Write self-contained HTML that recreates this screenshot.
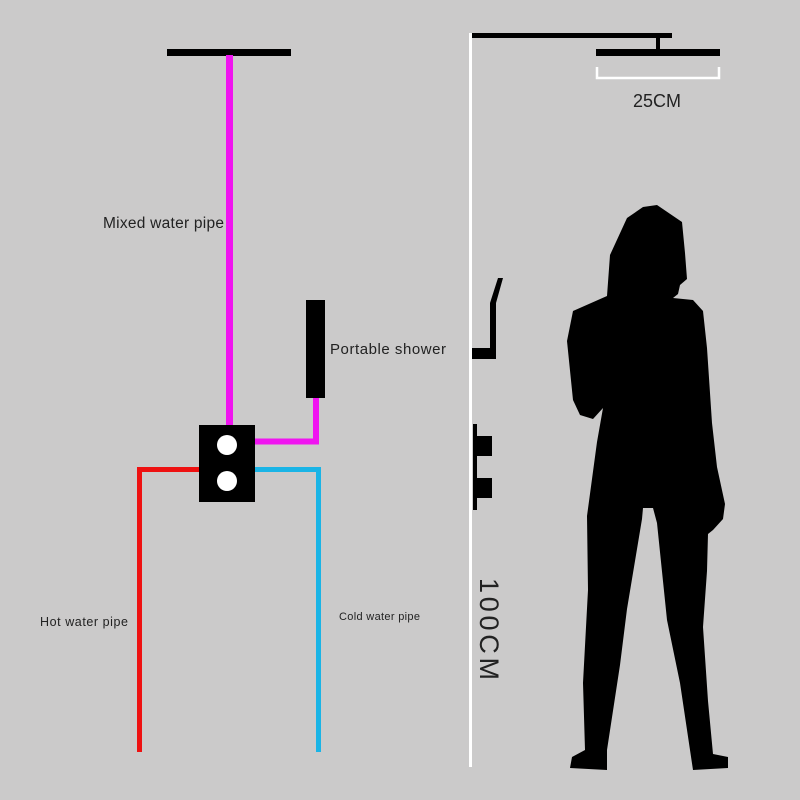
<!DOCTYPE html>
<html><head><style>
html,body{margin:0;padding:0;background:#cbcaca;}
svg{display:block}
text{font-family:"Liberation Sans",sans-serif;fill:#222;}
</style></head><body>
<svg width="800" height="800" viewBox="0 0 800 800">
<rect width="800" height="800" fill="#cbcaca"/>
<rect x="167" y="49" width="124" height="7" fill="#000"/>
<rect x="226" y="55" width="7" height="372" fill="#f014f0"/>
<rect x="306" y="300" width="19" height="98" fill="#000"/>
<path d="M255 441.5 H316 V398" fill="none" stroke="#f014f0" stroke-width="6"/>
<path d="M199 469.5 H139.5 V752" fill="none" stroke="#ee1111" stroke-width="5"/>
<path d="M255 469.5 H318.5 V752" fill="none" stroke="#1ab4e6" stroke-width="5"/>
<rect x="199" y="425" width="56" height="77" fill="#000"/>
<circle cx="227" cy="445" r="10" fill="#fff"/>
<circle cx="227" cy="481" r="10" fill="#fff"/>
<text x="103" y="228" font-size="15.5" textLength="121">Mixed water pipe</text>
<text x="330" y="354" font-size="15" textLength="116">Portable shower</text>
<text x="40" y="626" font-size="12.5" textLength="88">Hot water pipe</text>
<text x="339" y="620" font-size="11" textLength="81">Cold water pipe</text>
<rect x="469" y="33" width="3" height="734" fill="#fff"/>
<rect x="472" y="33" width="200" height="5" fill="#000"/>
<rect x="656" y="38" width="4" height="12" fill="#000"/>
<rect x="596" y="49" width="124" height="7" fill="#000"/>
<path d="M597 67 V78 H719 V67" fill="none" stroke="#fff" stroke-width="2.5"/>
<text x="657" y="107" font-size="18" text-anchor="middle">25CM</text>
<path d="M490 303 L498 278 H503 L496 303 V359 H472 V348 H490 Z" fill="#000"/>
<rect x="473" y="424" width="4" height="86" fill="#000"/>
<rect x="473" y="436" width="19" height="20" fill="#000"/>
<rect x="473" y="478" width="19" height="20" fill="#000"/>
<text transform="translate(480,578) rotate(90)" font-size="27" textLength="102">100CM</text>
<path fill="#000" d="M657 205 L682 222 L685 253 L687 279 L680 285 L678 294 L673 298 L693 300 L703 311 L707 348 L712 423 L717 467 L725 504 L723 519 L713 530 L708 534 L707 571 L703 627 L708 701 L713 754 L728 757 L728 768 L693 770 L690 750 L680 683 L667 620 L657 523 L653 508 L643 508 L642 519 L627 609 L620 665 L607 750 L607 770 L570 768 L572 757 L585 750 L583 683 L588 590 L587 516 L597 442 L603 408 L593 419 L580 415 L573 400 L567 341 L573 311 L607 296 L610 255 L627 218 L643 207 Z"/>
</svg>
</body></html>
